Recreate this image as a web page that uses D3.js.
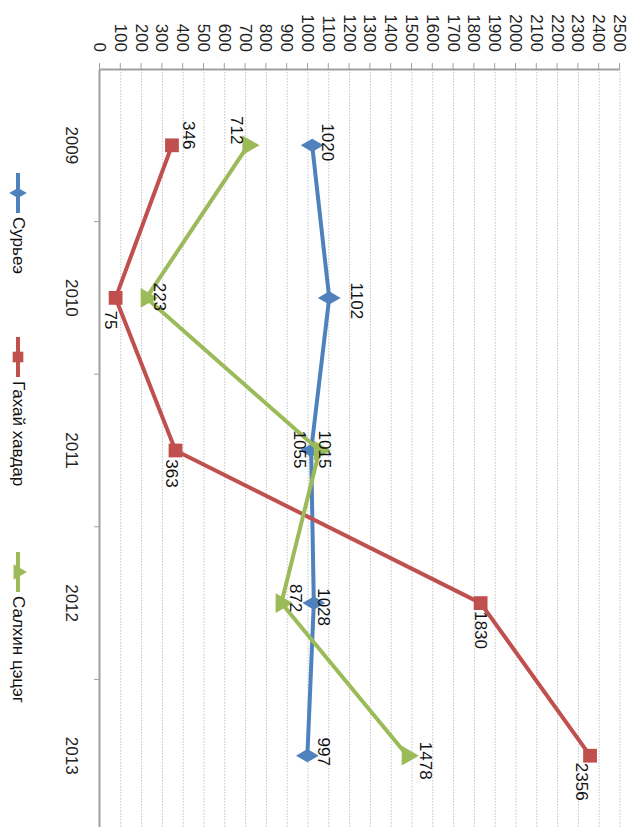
<!DOCTYPE html>
<html>
<head>
<meta charset="utf-8">
<script src="https://cdn.jsdelivr.net/npm/d3@7/dist/d3.min.js"></script>
<style>
  body { margin: 0; background: #fff; }
  text { font-family: "Liberation Sans", Arial, sans-serif; }
</style>
</head>
<body>
<div id="chart"></div>
<script>
const years = ["2009", "2010", "2011", "2012", "2013"];
const seriesNames = ["Сурьеэ", "Гахай хавдар", "Салхин цэцэг"];
const tuberculosis = [1020, 1102, 1015, 1028, 997];
const mumps = [346, 75, 363, 1830, 2356];
const chickenpox = [712, 223, 1055, 872, 1478];
const valueTicks = d3.range(0, 2501, 100);

const colors = ["#4f81bd", "#c0504d", "#9bbb59"];
const symbols = [d3.symbolDiamond, d3.symbolSquare, d3.symbolTriangle];
const symbolSizes = [150, 190, 170];

// label nudges, in screen px (right, down) - the original had hand-moved labels
const labelNudge = [
  [[15, -3], [27, 3], [13, -1], [10, 4], [16, -4]],
  [[17, -10], [-5, 22], [-4, 23], [0, 27], [-9, 26]],
  [[-12, -15], [13, -1], [-20, -1], [14, -5], [18, 5]]
];

const W = 634, H = 827;
const fontSize = 17;

const svg = d3.select("#chart")
  .append("svg")
  .attr("width", W)
  .attr("height", H);

// whole chart is drawn as a normal line chart, then turned 90deg clockwise
const g = svg.append("g")
  .attr("transform", `translate(${W},0) rotate(90)`);

const x = d3.scaleBand()
  .domain(years)
  .range([69, 832]);

const y = d3.scaleLinear()
  .domain([0, 2500])
  .range([534, 14]);

// gridlines
g.append("g")
  .selectAll("line")
  .data(valueTicks.slice(1))
  .enter()
  .append("line")
  .attr("x1", 69)
  .attr("x2", 832)
  .attr("y1", d => y(d))
  .attr("y2", d => y(d))
  .attr("stroke", "#c4c4c4")
  .attr("stroke-width", 1)
  .attr("stroke-dasharray", "1.5,1.5");

// value axis
const yAxis = g.append("g")
  .attr("transform", "translate(69,0)")
  .call(d3.axisLeft(y)
    .tickValues(valueTicks)
    .tickFormat(d3.format("d"))
    .tickSize(6)
    .tickSizeOuter(0)
    .tickPadding(11));
yAxis.select(".domain").attr("stroke", "#a0a0a0").attr("stroke-width", 2);
yAxis.selectAll(".tick line").attr("stroke", "#a0a0a0");
yAxis.selectAll(".tick text")
  .attr("font-size", fontSize)
  .attr("font-family", "Liberation Sans, Arial, sans-serif")
  .attr("fill", "#222");

// category axis
const xAxis = g.append("g")
  .attr("transform", "translate(0,534)")
  .call(d3.axisBottom(x).tickSize(0).tickSizeOuter(0));
xAxis.select(".domain").attr("stroke", "#a0a0a0").attr("stroke-width", 2);
xAxis.selectAll(".tick text")
  .attr("y", 28)
  .attr("dy", "0.35em")
  .attr("font-size", fontSize)
  .attr("font-family", "Liberation Sans, Arial, sans-serif")
  .attr("fill", "#222");
xAxis.selectAll("line.bound")
  .data(years.slice(1))
  .enter()
  .append("line")
  .attr("class", "bound")
  .attr("x1", d => x(d))
  .attr("x2", d => x(d))
  .attr("y1", 0)
  .attr("y2", 6)
  .attr("stroke", "#a0a0a0");

const series = [tuberculosis, mumps, chickenpox];
const cx = d => x(d) + x.bandwidth() / 2;

const line = d3.line()
  .x((d, i) => cx(years[i]))
  .y(d => y(d));

series.forEach((vals, s) => {
  g.append("path")
    .datum(vals)
    .attr("d", line)
    .attr("fill", "none")
    .attr("stroke", colors[s])
    .attr("stroke-width", 4)
    .attr("stroke-linejoin", "round");

  g.append("g")
    .selectAll("path")
    .data(vals)
    .enter()
    .append("path")
    .attr("d", d3.symbol().type(symbols[s]).size(symbolSizes[s]))
    .attr("transform", (d, i) => `translate(${cx(years[i])},${y(d)})`)
    .attr("fill", colors[s]);
});

// data labels
series.forEach((vals, s) => {
  g.append("g")
    .selectAll("text")
    .data(vals)
    .enter()
    .append("text")
    .attr("x", (d, i) => cx(years[i]) + labelNudge[s][i][1])
    .attr("y", (d, i) => y(d) - labelNudge[s][i][0])
    .attr("text-anchor", "middle")
    .attr("dominant-baseline", "central")
    .attr("font-size", fontSize)
    .attr("fill", "#111")
    .text(d => d);
});

// legend
const legendStart = [173, 337, 552];
const legend = g.append("g").attr("transform", "translate(0,616)");
seriesNames.forEach((name, s) => {
  const item = legend.append("g").attr("transform", `translate(${legendStart[s]},0)`);
  item.append("line")
    .attr("x1", 0).attr("x2", 40)
    .attr("y1", 0).attr("y2", 0)
    .attr("stroke", colors[s])
    .attr("stroke-width", 4);
  item.append("path")
    .attr("d", d3.symbol().type(symbols[s]).size(symbolSizes[s] * 0.6))
    .attr("transform", "translate(20,0)")
    .attr("fill", colors[s]);
  item.append("text")
    .attr("x", 44)
    .attr("y", 0)
    .attr("dominant-baseline", "central")
    .attr("font-size", fontSize)
    .attr("fill", "#111")
    .text(name);
});
</script>
</body>
</html>
